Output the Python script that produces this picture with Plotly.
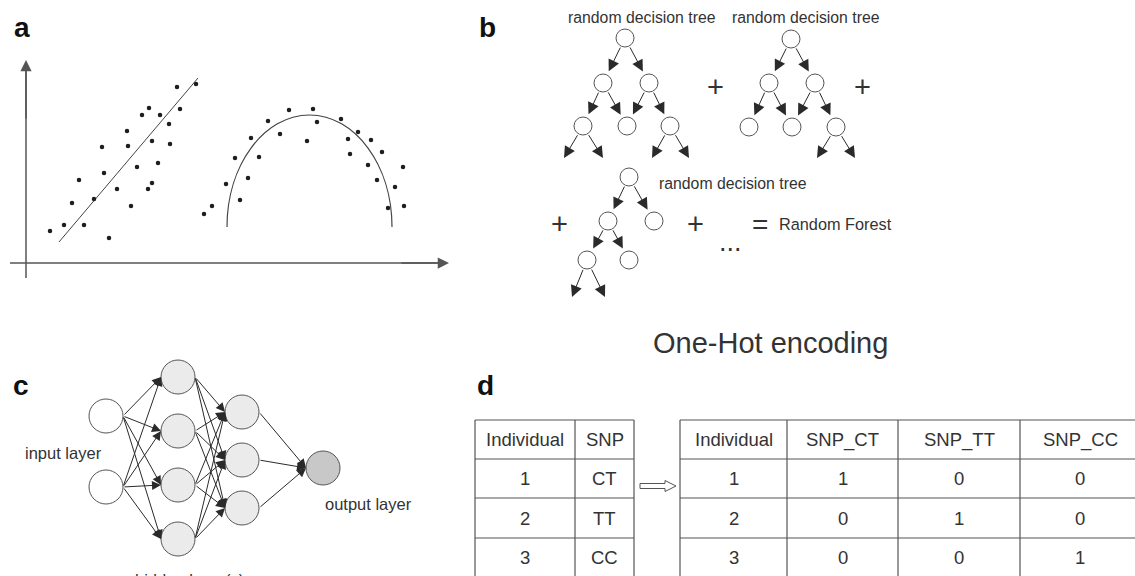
import plotly.graph_objects as go

W, H = 1135, 576
FONT = "Liberation Sans, Arial, sans-serif"
LINE = "#555555"
TXT = "#333333"

# ---------------- panel a data (pixel space of the figure) ----------------
lin_x = [50, 64, 72, 79, 84, 94, 102, 104, 109, 117, 127, 128, 131, 137, 142, 148, 149,
         152, 152, 158, 160, 169, 170, 177, 180, 196]
lin_y = [231, 225, 203, 180, 225, 199, 147, 173, 238, 189, 131, 146, 206, 167, 115, 189, 108,
         141, 183, 163, 115, 124, 144, 87, 109, 84]
fit_x = [59, 198]
fit_y = [242, 78]
arc_x = [204, 212, 226, 240, 235, 248, 251, 259, 268, 280, 289, 307, 313, 317, 341, 348, 350,
         358, 368, 371, 377, 382, 388, 395, 403, 404]
arc_y = [214, 206, 184, 200, 158, 178, 138, 157, 121, 134, 110, 141, 109, 122, 119, 139, 154,
         132, 165, 140, 180, 152, 208, 187, 167, 206]
arch_left, arch_right, arch_base, arch_top = 227, 392, 227, 115

# ---------------- panel b data ----------------
tree_titles = ["random decision tree"] * 3
tree_title_pos = [(642, 17), (806, 17), (733, 183)]
trees = [
    dict(nodes=[(625, 38), (603, 83), (649, 83), (583, 126), (627, 126), (670, 126)],
         edges=[(0, 1), (0, 2), (1, 3), (1, 4), (2, 4), (2, 5)],
         leaves=[(3, (564, 158)), (3, (603, 158)), (5, (652, 158)), (5, (689, 158))]),
    dict(nodes=[(791, 39), (769, 83), (815, 83), (749, 127), (792, 127), (836, 127)],
         edges=[(0, 1), (0, 2), (1, 3), (1, 4), (2, 4), (2, 5)],
         leaves=[(5, (817, 158)), (5, (855, 158))]),
    dict(nodes=[(629, 177), (608, 221), (654, 221), (587, 260), (629, 260)],
         edges=[(0, 1), (0, 2), (1, 3), (1, 4)],
         leaves=[(3, (572, 297)), (3, (605, 297))]),
]
plus_pos = [(715, 87), (862, 87), (559, 224), (695, 224)]

# ---------------- panel c data ----------------
layer_x = [106, 178, 242, 323]
layer_y = [[416, 487], [377, 431, 485, 539], [412, 460, 508], [468]]
layer_fill = ["#ffffff", "#ebebeb", "#ebebeb", "#c8c8c8"]
layer_labels = [("input layer", 63, 453), ("output layer", 368, 504)]
hidden_label = ("hidden layer(s)", 189)

# ---------------- panel d data ----------------
left_header = ["Individual", "SNP"]
left_rows = [["1", "CT"], ["2", "TT"], ["3", "CC"]]
right_header = ["Individual", "SNP_CT", "SNP_TT", "SNP_CC"]
right_rows = [["1", "1", "0", "0"], ["2", "0", "1", "0"], ["3", "0", "0", "1"]]
left_cols = [475, 575, 634]
right_cols = [680, 787, 898, 1020, 1140]
row_lines = [420, 459, 498, 538, 577]

fig = go.Figure()
shapes = []
ann = []


def arrow(tail, tip, size, width=1.0, color="#333333", start=0, end=0, head=2):
    return dict(x=tip[0], y=tip[1], ax=tail[0], ay=tail[1], xref="x", yref="y",
                axref="x", ayref="y", text="", showarrow=True, arrowhead=head,
                arrowsize=size, arrowwidth=width, arrowcolor=color,
                standoff=end, startstandoff=start)


def circle(cx, cy, r, fill="#ffffff"):
    return dict(type="circle", xref="x", yref="y", x0=cx - r, x1=cx + r, y0=cy - r, y1=cy + r,
                line=dict(color=LINE, width=1), fillcolor=fill, layer="above")


def text(s, x, y, size, bold=False, xanchor="center", color=TXT, yshift=0):
    return dict(x=x, y=y, xref="x", yref="y", text=("<b>%s</b>" % s) if bold else s,
                showarrow=False, xanchor=xanchor, yanchor="middle", yshift=yshift,
                font=dict(family=FONT, size=size, color=color))


# ---- panel a ----
shapes.append(dict(type="line", xref="x", yref="y", x0=26, x1=26, y0=278, y1=66,
                   line=dict(color=LINE, width=1.5)))
shapes.append(dict(type="line", xref="x", yref="y", x0=10, x1=444, y0=263, y1=263,
                   line=dict(color=LINE, width=1.5)))
ann.append(arrow((26, 120), (26, 60), 1.5, 1.5, LINE))
ann.append(arrow((400, 263), (449, 263), 1.5, 1.5, LINE))
fig.add_trace(go.Scatter(x=fit_x, y=fit_y, mode="lines", line=dict(color="#444444", width=1),
                         hoverinfo="skip"))
fig.add_trace(go.Scatter(x=lin_x, y=lin_y, mode="markers",
                         marker=dict(size=4.5, color="#1e1e1e"), hoverinfo="skip"))
fig.add_trace(go.Scatter(x=arc_x, y=arc_y, mode="markers",
                         marker=dict(size=4.5, color="#1e1e1e"), hoverinfo="skip"))
k = 0.5523
cx = (arch_left + arch_right) / 2
a_ = (arch_right - arch_left) / 2
b_ = arch_base - arch_top
path = (f"M {arch_left},{arch_base} C {arch_left},{arch_base - k * b_} {cx - k * a_},{arch_top} {cx},{arch_top} "
        f"C {cx + k * a_},{arch_top} {arch_right},{arch_base - k * b_} {arch_right},{arch_base}")
shapes.append(dict(type="path", xref="x", yref="y", path=path, line=dict(color="#444444", width=1.2)))

# ---- panel b ----
R = 9
for t in trees:
    nd = t["nodes"]
    for p, c in t["edges"]:
        ann.append(arrow(nd[p], nd[c], 2.3, 1, "#2a2a2a", start=R, end=R + 4))
    for p, tip in t["leaves"]:
        ann.append(arrow(nd[p], tip, 2.3, 1, "#2a2a2a", start=R, end=0))
    for (x, y) in nd:
        shapes.append(circle(x, y, R))
for s, (x, y) in zip(tree_titles, tree_title_pos):
    ann.append(text(s, x, y, 15.8))
for (x, y) in plus_pos:
    ann.append(text("+", x, y, 29))
ann.append(text("=", 760, 224, 28))
ann.append(text("Random Forest", 777, 224, 16.3, xanchor="left"))
ann.append(text("...", 730, 242, 27))

# ---- panel c ----
RN = 17
for li in range(len(layer_x) - 1):
    for y1 in layer_y[li]:
        for y2 in layer_y[li + 1]:
            ann.append(arrow((layer_x[li] + RN, y1), (layer_x[li + 1] - RN, y2), 1.8, 1, "#2a2a2a"))
for li, xs in enumerate(layer_x):
    for y in layer_y[li]:
        shapes.append(circle(xs, y, RN, layer_fill[li]))
for s, x, y in layer_labels:
    ann.append(text(s, x, y, 16.5))
ann.append(text(hidden_label[0], hidden_label[1], 575, 16.5, yshift=-5))

# ---- panel d ----
ann.append(text("One-Hot encoding", 770, 343, 29))


def table(cols, header, rows):
    for y in row_lines[:-1]:
        shapes.append(dict(type="line", xref="x", yref="y", x0=cols[0], x1=min(cols[-1], W),
                           y0=y, y1=y, line=dict(color=LINE, width=1.2)))
    for x in cols:
        if x <= W:
            shapes.append(dict(type="line", xref="x", yref="y", x0=x, x1=x, y0=row_lines[0],
                               y1=row_lines[-1], line=dict(color=LINE, width=1.2)))
    for ri, row in enumerate([header] + rows):
        yc = (row_lines[ri] + row_lines[ri + 1]) / 2
        for ci, s in enumerate(row):
            xc = (cols[ci] + cols[ci + 1]) / 2
            if ci == len(row) - 1 and cols[ci + 1] > W:
                xc = 1080
            ann.append(text(s, xc, yc, 18.5))


table(left_cols, left_header, left_rows)
table(right_cols, right_header, right_rows)
shapes.append(dict(type="path", xref="x", yref="y",
                   path="M 640,483.5 L 665,483.5 L 665,480.5 L 676,486 L 665,491.5 L 665,488.5 L 640,488.5 Z",
                   line=dict(color=LINE, width=1), fillcolor="#ffffff"))

# ---- panel labels ----
for s, x, y in [("a", 21.5, 27), ("b", 487, 27), ("c", 21, 385), ("d", 485, 385)]:
    ann.append(text(s, x, y, 28, bold=True, color="#111111"))

fig.update_layout(
    width=W, height=H, margin=dict(l=0, r=0, t=0, b=0),
    paper_bgcolor="white", plot_bgcolor="white", showlegend=False,
    xaxis=dict(range=[0, W], visible=False, fixedrange=True),
    yaxis=dict(range=[H, 0], visible=False, fixedrange=True),
    shapes=shapes, annotations=ann,
)
fig.write_html("out.html", config={"displayModeBar": False},
               post_script="document.body.style.margin='0';document.body.style.overflow='hidden';")
